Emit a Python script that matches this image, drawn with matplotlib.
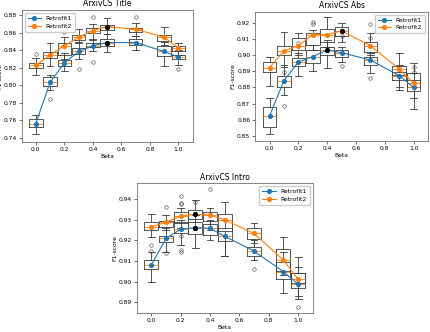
import numpy as np
import matplotlib.pyplot as plt

betas = [0.0, 0.1, 0.2, 0.3, 0.4, 0.5, 0.7, 0.9, 1.0]
names = ['Retrofit1', 'Retrofit2']

# ---- ArxivCS Title ----
title_mean1 = [0.7563, 0.8033, 0.8252, 0.8384, 0.8448, 0.8486, 0.8486, 0.8384, 0.8320]
title_q1_1 = [0.7522, 0.7995, 0.8214, 0.8354, 0.8430, 0.8448, 0.8460, 0.8335, 0.8297]
title_q3_1 = [0.7617, 0.8089, 0.8290, 0.8422, 0.8486, 0.8528, 0.8524, 0.8441, 0.8346]
title_lo_1 = [0.7447, 0.7942, 0.8157, 0.8297, 0.8384, 0.8373, 0.8403, 0.8214, 0.8233]
title_hi_1 = [0.7666, 0.8120, 0.8365, 0.8497, 0.8524, 0.8585, 0.8562, 0.8497, 0.8403]
title_fl_1 = [[], [0.7844], [], [0.8188], [0.8270], [], [], [], [0.8184]]
title_mean2 = [0.8226, 0.8343, 0.8450, 0.8547, 0.8622, 0.8668, 0.8637, 0.8547, 0.8422]
title_q1_2 = [0.8195, 0.8309, 0.8346, 0.8516, 0.8600, 0.8630, 0.8611, 0.8509, 0.8384]
title_q3_2 = [0.8252, 0.8373, 0.8486, 0.8573, 0.8649, 0.8687, 0.8656, 0.8573, 0.8441]
title_lo_2 = [0.8120, 0.8214, 0.8300, 0.8486, 0.8516, 0.8581, 0.8562, 0.8460, 0.8346]
title_hi_2 = [0.8309, 0.8479, 0.8554, 0.8637, 0.8694, 0.8762, 0.8705, 0.8660, 0.8486]
title_fl_2 = [[0.8358], [], [0.8603], [], [0.8780], [], [0.8780], [], []]

# ---- ArxivCS Abs ----
abs_mean1 = [0.8624, 0.8842, 0.8957, 0.8990, 0.9031, 0.9015, 0.8969, 0.8873, 0.8800]
abs_q1_1 = [0.8553, 0.8805, 0.8932, 0.8949, 0.9000, 0.8990, 0.8939, 0.8846, 0.8780]
abs_q3_1 = [0.8677, 0.8871, 0.8980, 0.9031, 0.9052, 0.9031, 0.8986, 0.8897, 0.8891]
abs_lo_1 = [0.8512, 0.8753, 0.8871, 0.8904, 0.8918, 0.8959, 0.8891, 0.8784, 0.8665]
abs_hi_1 = [0.8733, 0.8939, 0.9010, 0.9062, 0.9093, 0.9052, 0.9010, 0.8939, 0.8953]
abs_fl_1 = [[], [0.8685, 0.8898], [], [], [], [0.8932], [0.8856], [], []]
abs_mean2 = [0.8922, 0.9025, 0.9058, 0.9126, 0.9126, 0.9149, 0.9058, 0.8914, 0.8825]
abs_q1_2 = [0.8897, 0.9000, 0.9031, 0.9062, 0.9083, 0.9118, 0.9021, 0.8877, 0.8800]
abs_q3_2 = [0.8959, 0.9058, 0.9107, 0.9134, 0.9159, 0.9171, 0.9083, 0.8934, 0.8846]
abs_lo_2 = [0.8809, 0.8928, 0.9000, 0.9031, 0.9052, 0.9083, 0.9000, 0.8800, 0.8733]
abs_hi_2 = [0.8990, 0.9144, 0.9134, 0.9155, 0.9237, 0.9200, 0.9134, 0.9010, 0.8887]
abs_fl_2 = [[], [], [0.9076], [0.9206, 0.9192], [], [0.9120], [0.9192, 0.9107], [], [0.8924, 0.8897]]

# ---- ArxivCS Intro ----
intro_mean1 = [0.9080, 0.9210, 0.9254, 0.9262, 0.9259, 0.9220, 0.9148, 0.9048, 0.8988]
intro_q1_1 = [0.9059, 0.9191, 0.9234, 0.9230, 0.9226, 0.9197, 0.9126, 0.9012, 0.8967]
intro_q3_1 = [0.9103, 0.9221, 0.9283, 0.9288, 0.9278, 0.9259, 0.9170, 0.9097, 0.9040]
intro_lo_1 = [0.9000, 0.9142, 0.9178, 0.9161, 0.9202, 0.9126, 0.9105, 0.8945, 0.8915]
intro_hi_1 = [0.9145, 0.9259, 0.9300, 0.9324, 0.9300, 0.9300, 0.9202, 0.9142, 0.9072]
intro_fl_1 = [[0.9178, 0.9148], [0.9137], [0.9223, 0.9153, 0.9142], [], [], [], [0.9061], [], [0.8877]]
intro_mean2 = [0.9267, 0.9288, 0.9319, 0.9327, 0.9324, 0.9300, 0.9234, 0.9105, 0.9012]
intro_q1_2 = [0.9249, 0.9267, 0.9291, 0.9304, 0.9295, 0.9246, 0.9207, 0.9051, 0.8991]
intro_q3_2 = [0.9288, 0.9296, 0.9340, 0.9348, 0.9340, 0.9327, 0.9262, 0.9158, 0.9040]
intro_lo_2 = [0.9218, 0.9251, 0.9259, 0.9259, 0.9251, 0.9126, 0.9186, 0.9032, 0.8931]
intro_hi_2 = [0.9327, 0.9324, 0.9356, 0.9397, 0.9359, 0.9385, 0.9283, 0.9218, 0.9121]
intro_fl_2 = [[], [0.9364], [0.9416, 0.9381, 0.9376], [0.9389], [0.9449], [], [], [], []]


def make_stats(mean, q1, q3, lo, hi, fl):
    stats = []
    for i in range(len(mean)):
        stats.append(dict(med=mean[i], q1=q1[i], q3=q3[i], whislo=lo[i],
                          whishi=hi[i], fliers=fl[i]))
    return stats


panels = [
    ('ArxivCS Title', [0.050, 0.573, 0.397, 0.397],
     (title_mean1, title_q1_1, title_q3_1, title_lo_1, title_hi_1, title_fl_1),
     (title_mean2, title_q1_2, title_q3_2, title_lo_2, title_hi_2, title_fl_2),
     np.arange(0.74, 0.8801, 0.02), (0.7356, 0.8857), 'upper left'),
    ('ArxivCS Abs', [0.592, 0.576, 0.401, 0.389],
     (abs_mean1, abs_q1_1, abs_q3_1, abs_lo_1, abs_hi_1, abs_fl_1),
     (abs_mean2, abs_q1_2, abs_q3_2, abs_lo_2, abs_hi_2, abs_fl_2),
     np.arange(0.85, 0.9201, 0.01), (0.8471, 0.9268), 'upper right'),
    ('ArxivCS Intro', [0.317, 0.058, 0.4085, 0.390],
     (intro_mean1, intro_q1_1, intro_q3_1, intro_lo_1, intro_hi_1, intro_fl_1),
     (intro_mean2, intro_q1_2, intro_q3_2, intro_lo_2, intro_hi_2, intro_fl_2),
     np.arange(0.89, 0.9401, 0.01), (0.8848, 0.9478), 'upper right'),
]

fig = plt.figure(figsize=(4.31, 3.32), dpi=100)
fs = 4.3
lw = 0.6

for title, rect, s1, s2, yt, ylim, loc in panels:
    ax = fig.add_axes(rect)
    for s in (s1, s2):
        ax.bxp(make_stats(*s), positions=betas, widths=0.095, manage_ticks=False,
               boxprops=dict(linewidth=lw, color='#3a3a3a'),
               whiskerprops=dict(linewidth=lw, color='#3a3a3a'),
               capprops=dict(linewidth=lw, color='#3a3a3a'),
               medianprops=dict(linewidth=lw, color='C1'),
               flierprops=dict(marker='o', markersize=2.5, markerfacecolor='none',
                               markeredgewidth=0.4, markeredgecolor='#3a3a3a'))
    for k, s in enumerate((s1, s2)):
        ax.plot(betas, s[0], '-o', color='C%d' % k, linewidth=0.8,
                markersize=2.7, label=names[k], zorder=5)
        best = int(np.argmax(s[0]))
        ax.plot(betas[best], s[0][best], 'o', color='black', markersize=2.7, zorder=6)
    ax.set_title(title, fontsize=5.5, pad=2.5)
    ax.set_xlabel('Beta', fontsize=fs, labelpad=1.5)
    ax.set_ylabel('F1-score', fontsize=fs, labelpad=1.0)
    ax.set_xticks([0.0, 0.2, 0.4, 0.6, 0.8, 1.0])
    ax.set_yticks(yt)
    ax.set_xlim(-0.1, 1.1)
    ax.set_ylim(*ylim)
    ax.tick_params(labelsize=fs, length=2, width=0.4, pad=1.5)
    for sp in ax.spines.values():
        sp.set_linewidth(0.5)
        sp.set_color('#555555')
    ax.legend(loc=loc, fontsize=fs, handlelength=2.2, borderpad=0.5,
              labelspacing=0.4, framealpha=1, edgecolor='#cccccc')

fig.savefig('out.png', dpi=100)
